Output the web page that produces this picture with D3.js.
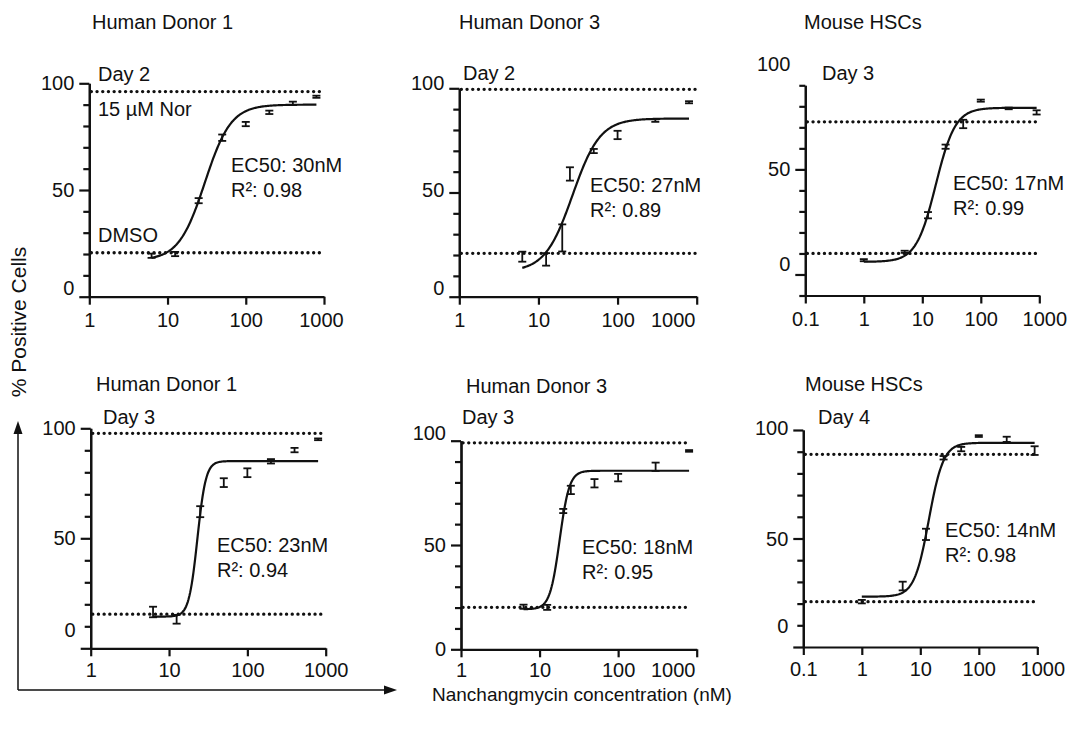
<!DOCTYPE html>
<html>
<head>
<meta charset="utf-8">
<script src="https://cdn.jsdelivr.net/npm/d3@7"></script>
<style>
  body { margin: 0; background: #fff; }
  svg text { font-family: "Liberation Sans", Arial, Helvetica, sans-serif; fill: #111; }
</style>
</head>
<body>
<svg id="chart" width="1070" height="733"></svg>
<script>
// ---- data ----
const panelTitles = ['Human Donor 1', 'Human Donor 3', 'Mouse HSCs', 'Human Donor 1', 'Human Donor 3', 'Mouse HSCs'];
const dayLabels = ['Day 2', 'Day 2', 'Day 3', 'Day 3', 'Day 3', 'Day 4'];
const ec50Labels = ['EC50: 30nM', 'EC50: 27nM', 'EC50: 17nM', 'EC50: 23nM', 'EC50: 18nM', 'EC50: 14nM'];
const r2Labels = ['R\u00B2: 0.98', 'R\u00B2: 0.89', 'R\u00B2: 0.99', 'R\u00B2: 0.94', 'R\u00B2: 0.95', 'R\u00B2: 0.98'];

// concentrations (nM)
const concHumanA = [6.25, 12.5, 25, 50, 100, 200, 400, 800];
const concHumanB = [6.25, 12.5, 20, 25, 50, 100, 300, 800];
const concMouse = [1, 5, 12.5, 25, 50, 100, 300, 900];

// % positive cells, mean and error
const donor1Day2Mean = [19.2, 20, 45, 74.5, 80.9, 86.4, 90.6, 93.7];
const donor1Day2Err = [1, 1, 1.2, 1.5, 1, 0.8, 0.8, 0.5];
const donor3Day2Mean = [19.2, 17.9, 28.2, 58.9, 69.9, 77.6, 84.5, 93.3];
const donor3Day2Err = [2.4, 3, 6.5, 3.2, 1, 2, 0.6, 0.5];
const mouseDay3Mean = [6.8, 10.8, 28.2, 60.8, 71.6, 82.7, 79, 77.1];
const mouseDay3Err = [0.5, 0.5, 1.5, 1, 2, 0.5, 0.4, 1];
const donor1Day3Mean = [16.5, 13.2, 62.1, 75.3, 79.8, 85, 90.1, 95];
const donor1Day3Err = [2.4, 2, 2.5, 2, 2, 1, 1, 0.4];
const donor3Day3Mean = [20.4, 20.1, 66.3, 76.4, 79.6, 82.3, 87.5, 95.1];
const donor3Day3Err = [1, 1.2, 1, 2, 2, 1.8, 2, 0.4];
const mouseDay4Mean = [20.9, 28.1, 51.9, 87.2, 91.2, 97.2, 95.7, 90.5];
const mouseDay4Err = [0.8, 2, 2.6, 0.8, 1, 0.4, 1.2, 2];

// 4-parameter logistic fits shown as curves (EC50 from the labels)
const fitBottom = [17, 12, 6, 14.4, 19.2, 23.2];
const fitTop = [90, 85.5, 79.3, 85.1, 85.6, 94.1];
const fitEC50 = [30, 27, 17, 23, 18, 14];
const fitHill = [2.6, 2.5, 2.6, 8, 7, 3.5];
const fitFrom = [6.25, 6.25, 1, 6.25, 6.25, 1];
const fitTo = [800, 800, 900, 800, 800, 900];

// dotted control levels: 15 uM Nor (top) and DMSO (bottom)
const norLevel = [96.1, 99.5, 72.6, 97.7, 99, 88.8];
const dmsoLevel = [20.6, 20.8, 10, 15.5, 20.1, 20.9];
const controlLineEnd = [950, 1000, 1000, 950, 820, 1000];

const panelConc = [concHumanA, concHumanB, concMouse, concHumanA, concHumanB, concMouse];
const panelMean = [donor1Day2Mean, donor3Day2Mean, mouseDay3Mean, donor1Day3Mean, donor3Day3Mean, mouseDay4Mean];
const panelErr = [donor1Day2Err, donor3Day2Err, mouseDay3Err, donor1Day3Err, donor3Day3Err, mouseDay4Err];

// ---- layout ----
const frames = [
  { x0: 89.3, x1: 324, y0: 296.7, y1: 83.3, xDom: [1, 1000], yDom: [0, 100] },
  { x0: 459.3, x1: 696.7, y0: 296.7, y1: 88.3, xDom: [1, 1000], yDom: [0, 100] },
  { x0: 805.3, x1: 1039.3, y0: 295.5, y1: 85.3, xDom: [0.1, 1000], yDom: [-10, 90] },
  { x0: 90.7, x1: 325.7, y0: 648.3, y1: 428.3, xDom: [1, 1000], yDom: [0, 100] },
  { x0: 461, x1: 696.7, y0: 649.3, y1: 440.7, xDom: [1, 1000], yDom: [0, 100] },
  { x0: 803.3, x1: 1037.3, y0: 647, y1: 430, xDom: [0.1, 1000], yDom: [0, 100] }
];
const titlePos = [[92, 22], [459, 22], [804, 22], [96, 384], [466, 386], [805, 384]];
const dayPos = [[98, 74], [463, 73], [822, 73], [103, 417], [462, 417], [818, 417]];
const ec50Pos = [[231, 165], [590, 185], [953, 183], [217, 545], [582, 547], [945, 530]];
const r2Gap = 25;
// where each y label (0, 50, 100) sits, in axis units
const yLabelAt = [[4, 50, 100], [4.2, 51, 102.4], [5.2, 50, 100], [8.3, 50, 100], [0, 50, 103.5], [9.7, 50, 100.8]];
const lastXLabelDx = [-3, -24, 5, 0, -24, 5];
const xTickPad = [8, 8, 8, 7, 6, 7];

const INK = '#111';
const FONT = 20;
const svg = d3.select('#chart');

function drawPanel(i) {
  const F = frames[i];
  const x = d3.scaleLog().domain(F.xDom).range([F.x0, F.x1]);
  const y = d3.scaleLinear().domain(F.yDom).range([F.y0, F.y1]);
  const g = svg.append('g');

  // x axis
  const xTicks = F.xDom[0] < 1 ? [0.1, 1, 10, 100, 1000] : [1, 10, 100, 1000];
  const xAxis = g.append('g')
    .attr('transform', `translate(0,${y(F.yDom[0])})`)
    .call(d3.axisBottom(x).tickValues(xTicks).tickFormat(d => String(d))
      .tickSize(8).tickSizeOuter(0).tickPadding(xTickPad[i]))
    .attr('color', INK)
    .attr('font-size', FONT)
    .attr('font-family', null);
  xAxis.selectAll('path, line').attr('stroke-width', 2.2);
  xAxis.selectAll('.tick').filter(d => d === 1000).select('text').attr('dx', lastXLabelDx[i]);

  // y axis: minor ticks every 10, major every 50
  const yTicks = d3.range(F.yDom[0], F.yDom[1] + 1, 10);
  const minor = g.append('g')
    .attr('transform', `translate(${F.x0},0)`)
    .call(d3.axisLeft(y).tickValues(yTicks.filter(v => v % 50 !== 0)).tickSize(6).tickSizeOuter(0).tickFormat(''))
    .attr('color', INK);
  const major = g.append('g')
    .attr('transform', `translate(${F.x0},0)`)
    .call(d3.axisLeft(y).tickValues(yTicks.filter(v => v % 50 === 0)).tickSize(10).tickSizeOuter(0).tickFormat(''))
    .attr('color', INK);
  minor.selectAll('path, line').attr('stroke-width', 2.2);
  major.selectAll('path, line').attr('stroke-width', 2.2);

  g.selectAll('.ylab')
    .data(['0', '50', '100'])
    .enter().append('text')
    .attr('class', 'ylab')
    .attr('x', F.x0 - 15)
    .attr('y', (d, k) => y(yLabelAt[i][k]))
    .attr('text-anchor', 'end')
    .attr('dominant-baseline', 'central')
    .attr('font-size', FONT)
    .text(d => d);

  // dotted control lines
  g.selectAll('.ctrl')
    .data([norLevel[i], dmsoLevel[i]])
    .enter().append('line')
    .attr('x1', F.x0 + 2)
    .attr('x2', x(controlLineEnd[i]))
    .attr('y1', d => y(d))
    .attr('y2', d => y(d))
    .attr('stroke', INK)
    .attr('stroke-width', 3.3)
    .attr('stroke-linecap', 'round')
    .attr('stroke-dasharray', '0.1 5.6');

  // fitted curve
  const b = fitBottom[i], t = fitTop[i], ec = fitEC50[i], h = fitHill[i];
  const lx0 = Math.log10(fitFrom[i]), lx1 = Math.log10(fitTo[i]);
  const xs = d3.range(0, 201).map(k => Math.pow(10, lx0 + (lx1 - lx0) * k / 200));
  const line = d3.line()
    .x(c => x(c))
    .y(c => y(b + (t - b) / (1 + Math.pow(ec / c, h))));
  g.append('path')
    .datum(xs)
    .attr('d', line)
    .attr('fill', 'none')
    .attr('stroke', INK)
    .attr('stroke-width', 2.2);

  // error bars
  const pts = panelConc[i].map((c, k) => ({ c, m: panelMean[i][k], e: panelErr[i][k] }));
  const eb = g.selectAll('.eb').data(pts).enter().append('g').attr('class', 'eb');
  eb.append('line')
    .attr('x1', d => x(d.c)).attr('x2', d => x(d.c))
    .attr('y1', d => y(d.m - d.e)).attr('y2', d => y(d.m + d.e))
    .attr('stroke', INK).attr('stroke-width', 1.8);
  [-1, 1].forEach(s => {
    eb.append('line')
      .attr('x1', d => x(d.c) - 4).attr('x2', d => x(d.c) + 4)
      .attr('y1', d => y(d.m + s * d.e)).attr('y2', d => y(d.m + s * d.e))
      .attr('stroke', INK).attr('stroke-width', 1.8);
  });

  // texts
  const txt = (xp, yp, s) => g.append('text')
    .attr('x', xp).attr('y', yp)
    .attr('dominant-baseline', 'central')
    .attr('font-size', FONT)
    .text(s);
  txt(titlePos[i][0], titlePos[i][1], panelTitles[i]);
  txt(dayPos[i][0], dayPos[i][1], dayLabels[i]);
  txt(ec50Pos[i][0], ec50Pos[i][1], ec50Labels[i]);
  txt(ec50Pos[i][0], ec50Pos[i][1] + r2Gap, r2Labels[i]);
}

d3.range(6).forEach(drawPanel);

// control annotations on the first panel
svg.append('text').attr('x', 98).attr('y', 109).attr('dominant-baseline', 'central')
  .attr('font-size', FONT).text('15 \u00B5M Nor');
svg.append('text').attr('x', 98).attr('y', 235).attr('dominant-baseline', 'central')
  .attr('font-size', FONT).text('DMSO');

// shared axis arrows and titles
const arrows = svg.append('g').attr('stroke', INK).attr('stroke-width', 1.5).attr('fill', 'none');
arrows.append('path').attr('d', 'M18,690 V432 M18,690 H385');
svg.append('path').attr('d', 'M18,421 L13.5,434 L22.5,434 Z').attr('fill', INK);
svg.append('path').attr('d', 'M397,690 L384,685.5 L384,694.5 Z').attr('fill', INK);

svg.append('text')
  .attr('transform', 'translate(18,322) rotate(-90)')
  .attr('text-anchor', 'middle')
  .attr('dominant-baseline', 'central')
  .attr('font-size', 21)
  .text('% Positive Cells');
svg.append('text')
  .attr('x', 432).attr('y', 694)
  .attr('dominant-baseline', 'central')
  .attr('font-size', 19)
  .text('Nanchangmycin concentration (nM)');
</script>
</body>
</html>
